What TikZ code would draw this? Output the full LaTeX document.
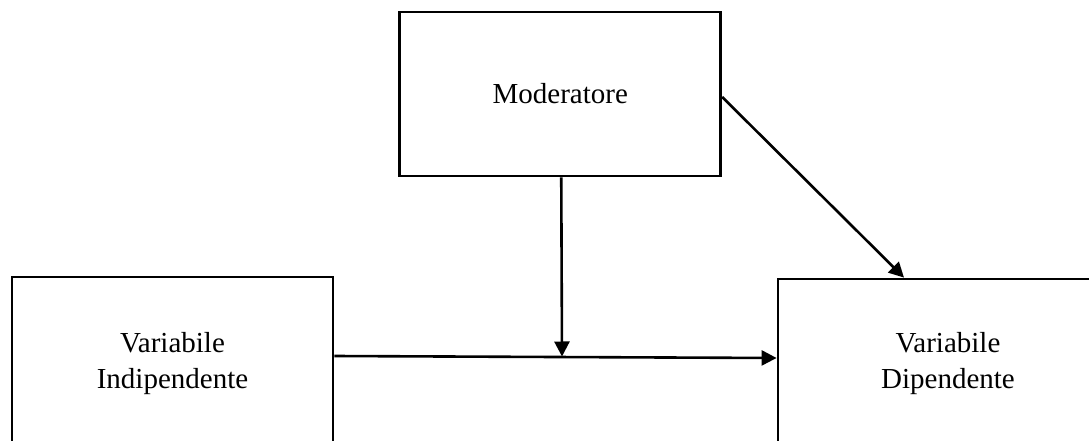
\documentclass[tikz,border=0pt]{standalone}
\usepackage{fontspec}
\setmainfont{Liberation Serif}
\usetikzlibrary{arrows.meta}
\begin{document}
\begin{tikzpicture}[x=1pt,y=-1pt,
  varbox/.style={draw=black, line width=2.8pt, rectangle, inner sep=0pt,
    align=center, font=\fontsize{29}{36}\selectfont},
  link/.style={line width=2.6pt, -{Triangle[length=15pt,width=15pt]}}]
  \useasboundingbox (0,0) rectangle (1089,441);
  \clip (0,0) rectangle (1089,441);
  \fill[white] (0,0) rectangle (1089,441);

  % the three variables
  \node[varbox, minimum width=321pt, minimum height=164pt] (mod) at (560.25,94) {Moderatore};
  \node[varbox, minimum width=321pt, minimum height=168pt] (vi) at (172.5,361) {\rule{0pt}{6pt}\\[-16pt]Variabile\\Indipendente};
  \node[varbox, minimum width=340pt, minimum height=164pt] (vd) at (948,361) {\rule{0pt}{6pt}\\[-16pt]Variabile\\Dipendente};

  % moderating effect lands on the main path
  \coordinate (join) at (562,356.5);

  \draw[link] ([yshift=5pt]vi.east) -- ([yshift=3pt]vd.west);
  \draw[link] ([xshift=1pt]mod.south) -- (join);
  \draw[link] ([yshift=-3pt]mod.east) -- ([xshift=-44pt]vd.north);
\end{tikzpicture}
\end{document}
